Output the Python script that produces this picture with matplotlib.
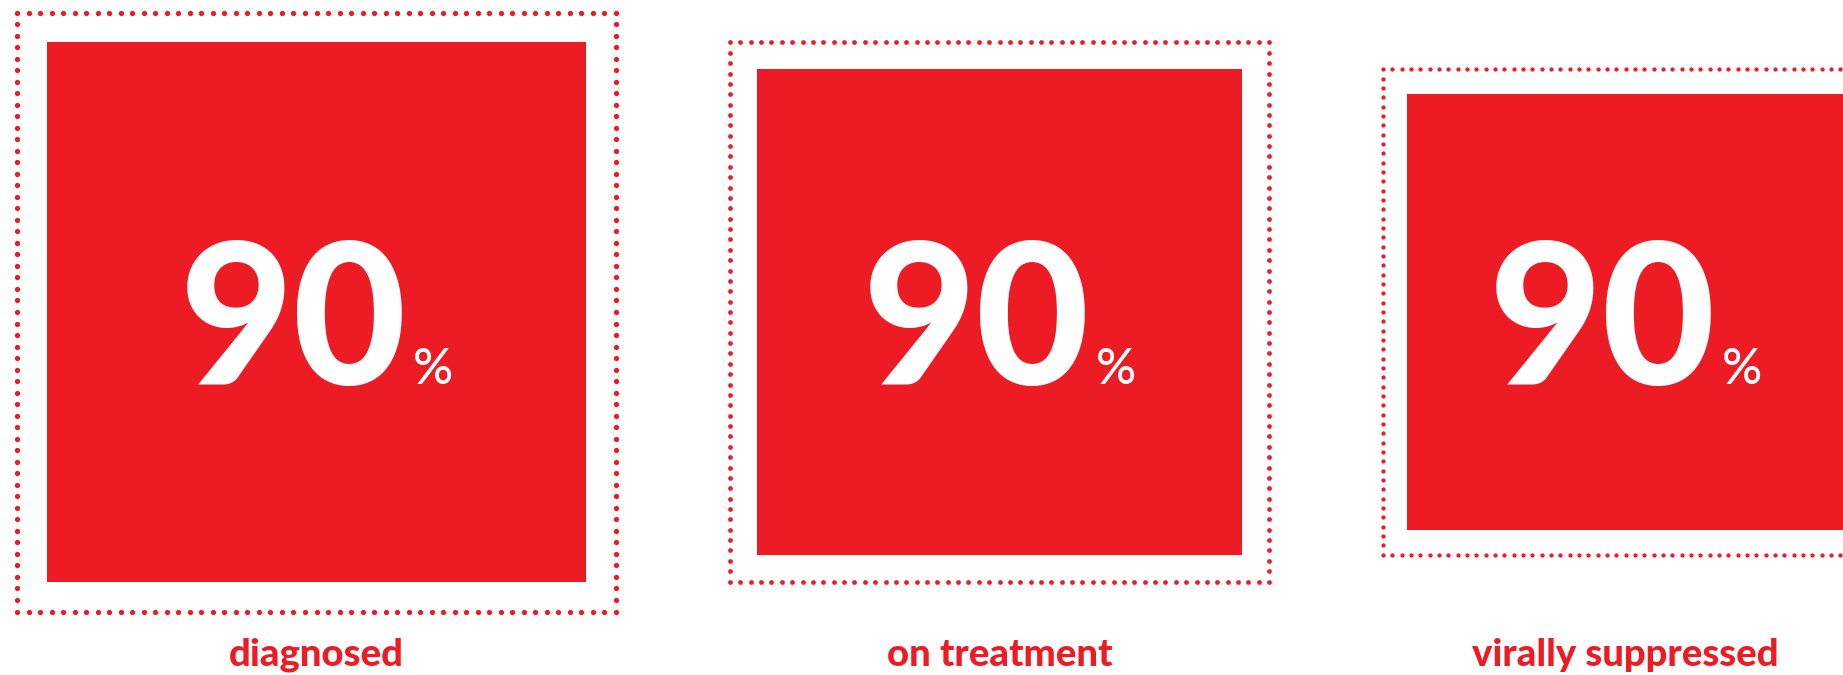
import matplotlib
matplotlib.use("Agg")
import matplotlib.pyplot as plt
from matplotlib.patches import Rectangle
import numpy as np

# ---- data ----
categories = ["diagnosed", "on treatment", "virally suppressed"]
values = [90, 90, 90]          # percent at each stage of the cascade
value_labels = ["90", "90", "90"]

RED = "#ED1C24"
W, H = 1843, 675

fig = plt.figure(figsize=(W / 100, H / 100), dpi=100)
ax = fig.add_axes([0, 0, 1, 1])
ax.set_xlim(0, W)
ax.set_ylim(H, 0)
ax.axis("off")

base_size = 599.0   # pixel size of the 100% reference square
left0 = 17.0
gap = 114.0
cy = 312.0
n_per_side = 52

outer = base_size
x_left = left0
num_texts = []
for i, (cat, v, lab) in enumerate(zip(categories, values, value_labels)):
    inner = outer * v / 100.0
    cx = x_left + outer / 2
    # dotted outer square
    top = cy - outer / 2
    bot = cy + outer / 2
    right = x_left + outer
    t = np.linspace(0, 1, n_per_side, endpoint=False)
    xs = np.concatenate([x_left + t * outer, np.full_like(t, right),
                         right - t * outer, np.full_like(t, x_left)])
    ys = np.concatenate([np.full_like(t, top), top + t * outer,
                         np.full_like(t, bot), bot - t * outer])
    d_px = outer * 0.0088
    ax.scatter(xs, ys, s=(d_px * 0.72) ** 2, color=RED, linewidths=0,
               clip_on=False, zorder=2)
    # inner red square
    ax.add_patch(Rectangle((cx - inner / 2, cy - inner / 2), inner, inner,
                           facecolor=RED, edgecolor="none", zorder=1))
    # value text
    baseline = cy + 72
    t90 = ax.text(cx + 94, baseline, lab, ha="right", va="baseline",
                  color="white", fontsize=141, fontfamily="Lato",
                  fontweight="black", zorder=3)
    tpc = ax.text(cx + 100, baseline, "%", ha="left", va="baseline",
                  color="white", fontsize=36, fontfamily="Lato",
                  fontweight="medium", zorder=3)
    num_texts.append((cx, t90, tpc))
    # category label
    ax.text(cx, 666, cat, ha="center", va="baseline", color=RED,
            fontsize=27.5, fontfamily="Lato", fontweight="black")
    x_left = right + gap
    outer = inner

# center "90%" groups horizontally in their boxes
fig.canvas.draw()
r = fig.canvas.get_renderer()
for cx, t90, tpc in num_texts:
    b1 = t90.get_window_extent(r)
    b2 = tpc.get_window_extent(r)
    mid = (b1.x0 + b2.x1) / 2  # display px == data x here
    shift = cx - mid
    for tt in (t90, tpc):
        x, y = tt.get_position()
        tt.set_position((x + shift, y))

fig.savefig("out.png", dpi=100, facecolor="white")
